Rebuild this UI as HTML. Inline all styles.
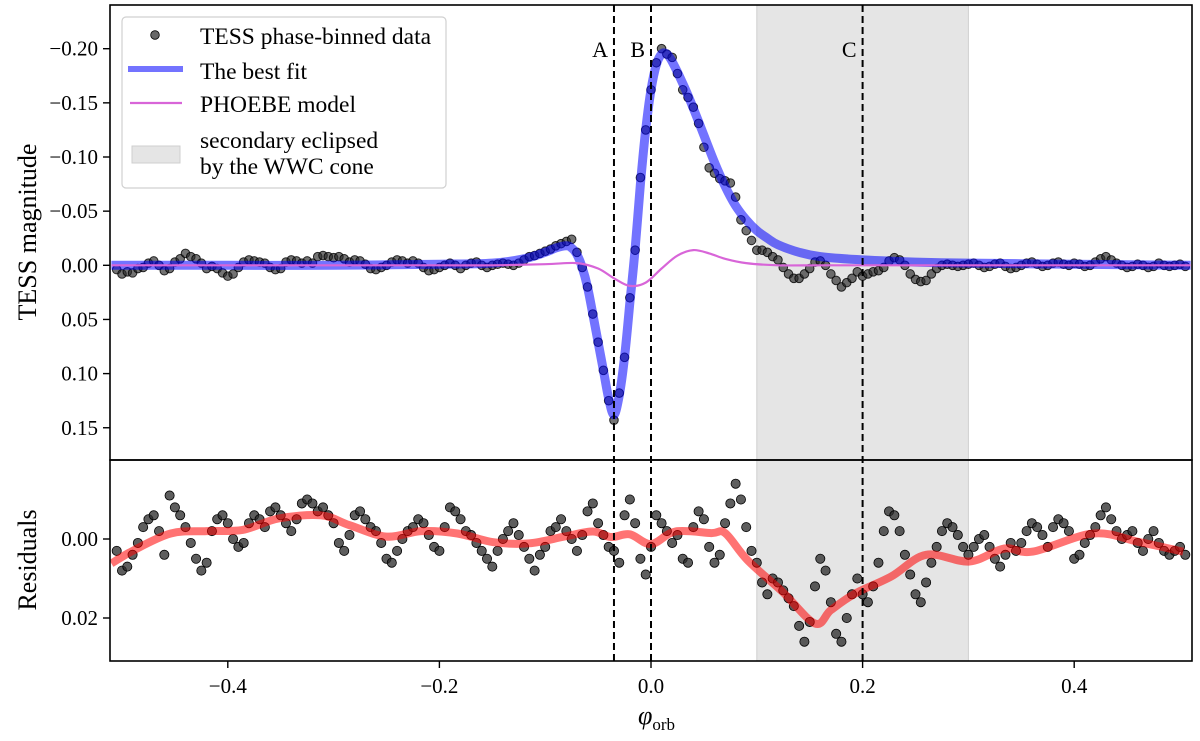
<!DOCTYPE html>
<html><head><meta charset="utf-8"><style>
html,body{margin:0;padding:0;background:#fff;}
svg text{font-family:"Liberation Serif",serif;fill:#000;}
</style></head><body>
<svg id="chart" width="1200" height="736" viewBox="0 0 1200 736" xmlns="http://www.w3.org/2000/svg"></svg>
<script>
// ---- data ----
const dataStart = -0.505, dataStep = 0.005;
const topData = [
0.004,0.008,0.006,0.007,0.003,0.002,-0.002,-0.004,0.000,0.005,
0.003,-0.003,-0.006,-0.011,-0.008,-0.006,-0.002,0.003,0.001,0.003,
0.007,0.010,0.008,0.002,-0.003,-0.005,-0.004,-0.003,-0.002,0.002,
0.004,0.003,-0.003,-0.005,-0.004,-0.002,-0.004,-0.002,-0.008,-0.009,
-0.008,-0.007,-0.008,-0.006,-0.003,-0.005,-0.004,-0.001,0.003,0.004,
0.002,0.000,-0.003,-0.005,-0.004,-0.002,-0.004,-0.002,0.002,0.005,
0.004,0.002,0.000,-0.002,0.000,0.003,0.000,-0.002,-0.003,0.000,
0.002,0.000,-0.001,-0.002,-0.001,0.000,-0.002,-0.005,-0.008,-0.009,
-0.011,-0.013,-0.015,-0.018,-0.020,-0.022,-0.024,-0.012,0.002,0.020,
0.045,0.071,0.097,0.125,0.143,0.118,0.085,0.030,-0.014,-0.081,
-0.125,-0.162,-0.187,-0.200,-0.195,-0.192,-0.177,-0.162,-0.155,-0.146,
-0.131,-0.109,-0.090,-0.085,-0.080,-0.078,-0.076,-0.063,-0.042,-0.032,
-0.023,-0.014,-0.014,-0.012,-0.008,-0.005,0.002,0.008,0.012,0.012,
0.008,0.003,-0.003,-0.004,0.000,0.008,0.014,0.020,0.016,0.012,
0.006,0.010,0.008,0.006,0.005,0.002,-0.004,-0.007,-0.005,0.000,
0.008,0.013,0.015,0.014,0.008,0.003,0.000,-0.001,0.000,0.001,
0.000,-0.001,-0.002,0.000,0.002,0.001,-0.001,-0.002,0.001,0.003,
0.002,0.000,-0.002,-0.003,-0.001,0.001,0.000,-0.002,-0.003,-0.001,
0.000,-0.002,-0.001,0.001,0.000,-0.003,-0.006,-0.008,-0.005,-0.002,
0.000,0.002,0.001,-0.001,0.000,0.002,0.001,-0.002,0.000,0.001,
0.000,-0.001,0.001];
const fitPhase = [-0.51,-0.4,-0.3,-0.2,-0.15,-0.12,-0.1,-0.09,-0.08,-0.075,-0.07,-0.065,-0.06,-0.055,-0.05,-0.045,-0.04,-0.035,-0.03,-0.025,-0.02,-0.015,-0.01,-0.005,0,0.005,0.01,0.015,0.02,0.03,0.04,0.05,0.06,0.07,0.08,0.09,0.1,0.11,0.12,0.14,0.16,0.2,0.25,0.3,0.35,0.4,0.45,0.51];
const fitMag = [0,0,0,-0.001,-0.002,-0.006,-0.012,-0.016,-0.018,-0.016,-0.01,0.002,0.02,0.045,0.071,0.097,0.123,0.138,0.12,0.085,0.035,-0.015,-0.075,-0.125,-0.162,-0.185,-0.195,-0.195,-0.188,-0.168,-0.145,-0.12,-0.095,-0.073,-0.055,-0.042,-0.032,-0.025,-0.019,-0.012,-0.008,-0.005,-0.003,-0.002,-0.0015,-0.001,-0.0005,0];
const phoebePhase = [-0.51,-0.4,-0.3,-0.2,-0.15,-0.1,-0.07,-0.05,-0.035,-0.02,-0.005,0.01,0.025,0.04,0.055,0.07,0.09,0.12,0.16,0.22,0.3,0.4,0.51];
const phoebeMag = [0,0,0,0,0,-0.001,-0.002,0.003,0.012,0.019,0.016,0.003,-0.009,-0.014,-0.011,-0.006,-0.002,0,0,0,0,0,0];
const resData = [
3,8,7,4,1,-3,-5,-6,-2,4,
-11,-8,-6,-3,1,5,8,6,-2,-5,
-6,-4,0,2,1,-4,-6,-5,-3,-7,
-8,-6,-4,-2,-5,-9,-10,-9,-7,-8,
-6,-4,1,3,-1,-6,-7,-5,-3,-2,
1,5,6,3,0,-2,-3,-5,-4,-1,
2,3,-3,-8,-7,-5,-2,-1,1,3,
5,7,3,0,-2,-4,-1,2,5,8,
4,2,-2,-3,-5,-2,0,3,-1,-7,
-9,-4,-1,2,3,6,-6,-10,-4,5,
9,2,-6,-4,-2,1,-1,5,6,-3,
-7,-5,2,6,4,-4,-9,-14,-10,-3,
3,6,11,14,10,11,13,15,17,22,
26,21,12,5,8,16,24,26,20,14,
10,14,16,12,6,-2,-7,-6,-2,4,
9,14,16,11,6,2,-2,-4,-3,-1,
2,4,2,0,-1,2,5,7,4,1,
3,1,-2,-4,-3,-1,2,-3,-5,-4,
-2,5,4,1,-1,-3,-6,-8,-5,-2,
0,-1,-2,1,3,0,-2,1,3,4,
3,2,4];
const redPhase = [-0.51,-0.49,-0.454,-0.42,-0.386,-0.352,-0.312,-0.285,-0.25,-0.217,-0.183,-0.149,-0.115,-0.082,-0.055,-0.038,-0.02,0,0.023,0.057,0.07,0.091,0.124,0.155,0.17,0.193,0.227,0.26,0.301,0.334,0.361,0.418,0.462,0.503];
const redVal = [6.2,3,-1.4,-2,-2.3,-5.2,-6,-3.5,-0.6,-2,-1.4,0.8,1.1,-0.6,-1.9,-0.5,-1.2,1.3,-1.9,-1.5,-1.5,5.3,13.3,21.4,18,13.8,9.5,4,5.7,2.4,3.2,-1.4,0.8,3.2];
const topTicks = [-0.20,-0.15,-0.10,-0.05,0.00,0.05,0.10,0.15];
const topTickLabels = ["\u22120.20","\u22120.15","\u22120.10","\u22120.05","0.00","0.05","0.10","0.15"];
const resTicks = [0,20];
const resTickLabels = ["0.00","0.02"];
const xTicks = [-0.4,-0.2,0,0.2,0.4];
const xTickLabels = ["\u22120.4","\u22120.2","0.0","0.2","0.4"];
const markers = [{p:-0.035,t:"A"},{p:0,t:"B"},{p:0.2,t:"C"}];
const shade = [0.1,0.3];

// ---- axes ----
const L=110,R=1192,T1=5,B1=460,B2=661;
const X = p => 651 + p*1058;
const Y1 = m => 265.3 + m*1083;
const Y2 = r => 539 + r*3.95;
const NS="http://www.w3.org/2000/svg";
const svg=document.getElementById('chart');
function mk(tag,attrs,parent){const e=document.createElementNS(NS,tag);for(const k in attrs)e.setAttribute(k,attrs[k]);(parent||svg).appendChild(e);return e;}
function smooth(pts){let d="M"+pts[0][0].toFixed(1)+","+pts[0][1].toFixed(1);
 for(let i=0;i<pts.length-1;i++){const p0=pts[Math.max(i-1,0)],p1=pts[i],p2=pts[i+1],p3=pts[Math.min(i+2,pts.length-1)];
 const c1=[p1[0]+(p2[0]-p0[0])/6,p1[1]+(p2[1]-p0[1])/6],c2=[p2[0]-(p3[0]-p1[0])/6,p2[1]-(p3[1]-p1[1])/6];
 c1[0]=Math.min(Math.max(c1[0],p1[0]),p2[0]);c2[0]=Math.min(Math.max(c2[0],p1[0]),p2[0]);
 d+=" C"+c1.map(v=>v.toFixed(1))+" "+c2.map(v=>v.toFixed(1))+" "+p2[0].toFixed(1)+","+p2[1].toFixed(1);}return d;}

mk('defs',{}).innerHTML='<clipPath id="c1"><rect x="110" y="5" width="1082" height="455"/></clipPath><clipPath id="c2"><rect x="110" y="460" width="1082" height="201"/></clipPath>';

// shading
let s1=mk('rect',{x:X(shade[0]),y:T1,width:X(shade[1])-X(shade[0]),height:B1-T1,fill:'#e5e5e5',stroke:'#cfcfcf'});


let s2=mk('rect',{x:X(shade[0]),y:B1,width:X(shade[1])-X(shade[0]),height:B2-B1,fill:'#e5e5e5',stroke:'#cfcfcf'});



// top panel series
const g1=mk('g',{'clip-path':'url(#c1)'});


const dg=mk('g',{},g1);


topData.forEach((m,i)=>{const c=mk('circle',{cx:X(dataStart+i*dataStep),cy:Y1(m),r:4.3,fill:'rgba(40,40,40,0.65)',stroke:'rgba(0,0,0,0.8)','stroke-width':1},dg);
 
 });
let fit=mk('path',{d:smooth(fitPhase.map((p,i)=>[X(p),Y1(fitMag[i])])),fill:'none',stroke:'rgba(0,0,255,0.55)','stroke-width':9,'stroke-linejoin':'round'},g1);


let ph=mk('path',{d:smooth(phoebePhase.map((p,i)=>[X(p),Y1(phoebeMag[i])])),fill:'none',stroke:'#d865d8','stroke-width':2.2},g1);



// bottom panel
const g2=mk('g',{'clip-path':'url(#c2)'});


resData.forEach((r,i)=>{const c=mk('circle',{cx:X(dataStart+i*dataStep),cy:Y2(r),r:4.6,fill:'rgba(40,40,40,0.75)',stroke:'#000','stroke-width':0.8},g2);
 
 });
let red=mk('path',{d:smooth(redPhase.map((p,i)=>[X(p),Y2(redVal[i])])),fill:'none',stroke:'rgba(255,0,0,0.55)','stroke-width':8},g2);



// dashed markers
markers.forEach(m=>{let l=mk('line',{x1:X(m.p),x2:X(m.p),y1:T1,y2:B2,stroke:'#000','stroke-width':2,'stroke-dasharray':'7,4'});
 
 
 let t=mk('text',{x:X(m.p)-6,y:57,'font-size':22,'text-anchor':'end'});t.textContent=m.t;
 
 });

// frames
let f1=mk('rect',{x:L,y:T1,width:R-L,height:B1-T1,fill:'none',stroke:'#000','stroke-width':1.6});


let f2=mk('rect',{x:L,y:B1,width:R-L,height:B2-B1,fill:'none',stroke:'#000','stroke-width':1.6});



// ticks
topTicks.forEach((v,i)=>{mk('line',{x1:L-7,x2:L,y1:Y1(v),y2:Y1(v),stroke:'#000','stroke-width':1.4});
 let t=mk('text',{x:L-12,y:Y1(v)+7,'font-size':21,'text-anchor':'end'});t.textContent=topTickLabels[i];
 
 });
resTicks.forEach((v,i)=>{mk('line',{x1:L-7,x2:L,y1:Y2(v),y2:Y2(v),stroke:'#000','stroke-width':1.4});
 let t=mk('text',{x:L-12,y:Y2(v)+7,'font-size':21,'text-anchor':'end'});t.textContent=resTickLabels[i];
 
 });
xTicks.forEach((v,i)=>{mk('line',{x1:X(v),x2:X(v),y1:B2,y2:B2+7,stroke:'#000','stroke-width':1.4});
 let t=mk('text',{x:X(v),y:B2+32,'font-size':21,'text-anchor':'middle'});t.textContent=xTickLabels[i];
 
 });
</script>
<svg style="position:absolute;left:0;top:0" width="1200" height="736">
<text x="0" y="0" font-size="26" text-anchor="middle" transform="translate(36,232) rotate(-90)" style="font-family:'Liberation Serif',serif">TESS magnitude</text>
<text x="0" y="0" font-size="26" text-anchor="middle" transform="translate(36,560) rotate(-90)" style="font-family:'Liberation Serif',serif">Residuals</text>
<text x="638" y="724" font-size="26" style="font-family:'Liberation Serif',serif"><tspan font-style="italic">φ</tspan><tspan font-size="17" dy="6">orb</tspan></text>
<g style="font-family:'Liberation Serif',serif">
<rect x="122" y="17" width="324" height="171" rx="4" fill="rgba(255,255,255,0.85)" stroke="#d0d0d0" stroke-width="1.2"/>
<circle cx="155" cy="35" r="4.3" fill="rgba(40,40,40,0.7)" stroke="#000" stroke-width="0.8"/>
<text x="200" y="44" font-size="23.5">TESS phase-binned data</text>
<line x1="128" x2="183" y1="69" y2="69" stroke="rgba(0,0,255,0.55)" stroke-width="6"/>
<text x="200" y="79" font-size="23.5">The best fit</text>
<line x1="130" x2="182" y1="103" y2="103" stroke="#d865d8" stroke-width="2.2"/>
<text x="200" y="112" font-size="23.5">PHOEBE model</text>
<rect x="132" y="146" width="48" height="17" fill="#e5e5e5" stroke="#cfcfcf"/>
<text x="200" y="148" font-size="23.5">secondary eclipsed</text>
<text x="200" y="174" font-size="23.5">by the WWC cone</text>
</g>
</svg>
</body></html>
